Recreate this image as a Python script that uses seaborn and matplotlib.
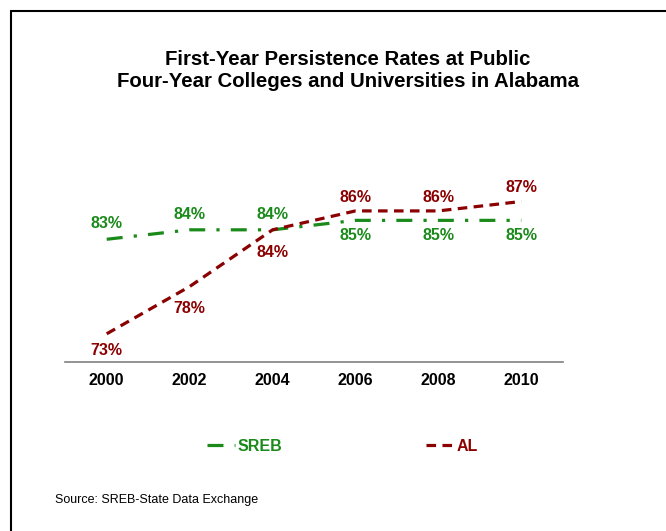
import numpy as np
import pandas as pd
import matplotlib.pyplot as plt
import seaborn as sns
from matplotlib.lines import Line2D

# 데이터
years = [2000, 2002, 2004, 2006, 2008, 2010]
sreb = [83, 84, 84, 85, 85, 85]
al = [73, 78, 84, 86, 86, 87]
title = 'First-Year Persistence Rates at Public\nFour-Year Colleges and Universities in Alabama'
source = 'Source: SREB-State Data Exchange'

green = '#1a8a1a'
red = '#8b0000'

sns.set_theme(style='white')
plt.rcParams['font.family'] = ['Liberation Sans', 'DejaVu Sans']
plt.rcParams['text.color'] = 'black'
plt.rcParams['xtick.color'] = 'black'

fig = plt.figure(figsize=(6.66, 5.31), dpi=100)
ax = fig.add_axes([0.098, 0.318, 0.747, 0.356])

df = pd.DataFrame({'year': years, 'SREB': sreb, 'AL': al})
sns.lineplot(data=df, x='year', y='SREB', ax=ax, color=green, lw=2.3,
             linestyle=(0, (5, 3.5, 1, 3.5)), label='SREB')
sns.lineplot(data=df, x='year', y='AL', ax=ax, color=red, lw=2.3,
             linestyle=(0, (3, 2)), label='AL')

# 데이터 레이블 (위/아래 배치)
for i, (x, s, a) in enumerate(zip(years, sreb, al)):
    s_off = 11 if s >= a else -11
    if s >= a:
        a_off = -12 if i == 0 else -16
    else:
        a_off = 10
    ax.annotate(f'{s}%', (x, s), xytext=(0, s_off), textcoords='offset points',
                ha='center', va='center', color=green, fontsize=11.5, fontweight='bold')
    ax.annotate(f'{a}%', (x, a), xytext=(0, a_off), textcoords='offset points',
                ha='center', va='center', color=red, fontsize=11.5, fontweight='bold')

ax.set_xlim(1999, 2011)
ax.set_ylim(70, 90)
ax.set_xticks(years)
ax.set_xticklabels([str(y) for y in years], fontsize=11.5, fontweight='bold')
ax.tick_params(axis='x', length=0, pad=8)
ax.set_yticks([])
ax.set_xlabel('')
ax.set_ylabel('')
for side in ['top', 'right', 'left']:
    ax.spines[side].set_visible(False)
ax.spines['bottom'].set_color('#808080')
ax.spines['bottom'].set_linewidth(1.2)

ax.get_legend().remove()
handles, labels = ax.get_legend_handles_labels()
leg = fig.legend(handles, labels, loc='center', bbox_to_anchor=(0.514, 0.16),
                 ncol=2, frameon=False, handlelength=1.75, handletextpad=0.15,
                 columnspacing=9.0, prop={'weight': 'bold', 'size': 11.5})
for txt, c in zip(leg.get_texts(), [green, red]):
    txt.set_color(c)

fig.text(0.522, 0.867, title, ha='center', va='center', fontsize=14.7,
         fontweight='bold', linespacing=1.2)
fig.text(0.083, 0.058, source, ha='left', va='center', fontsize=9)

# 테두리
fig.add_artist(Line2D([0.0165, 0.0165], [0, 0.979], color='black', lw=1.5,
                      transform=fig.transFigure))
fig.add_artist(Line2D([0.0165, 1], [0.979, 0.979], color='black', lw=1.5,
                      transform=fig.transFigure))

fig.savefig('out.png', dpi=100, facecolor='white')
